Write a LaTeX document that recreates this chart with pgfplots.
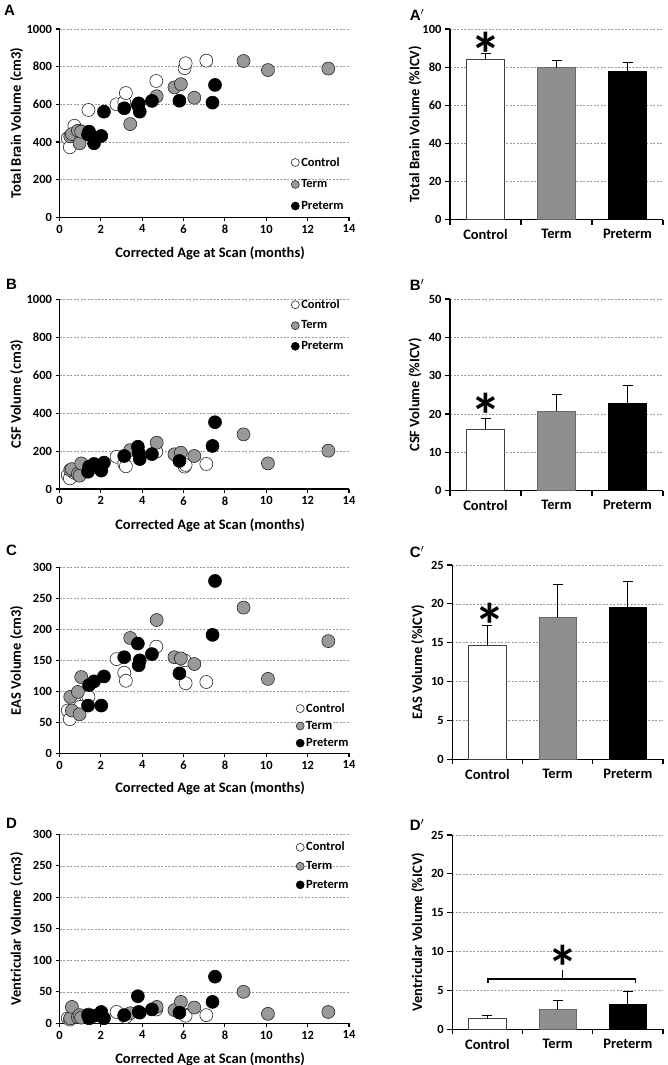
\documentclass[border=0pt]{standalone}
\usepackage{fontspec}
\setmainfont{Carlito}
\newfontfamily\arialf{Liberation Sans}
\usepackage{pgfplots}
\pgfplotsset{compat=1.18}
\definecolor{termgray}{HTML}{999999}
\definecolor{bargray}{HTML}{8E8E8E}
\definecolor{gridgray}{HTML}{9A9A9A}
\pgfplotsset{
 base/.style={scale only axis, axis x line=bottom, axis y line=left,
   axis line style={-, line width=1.3pt, black},
   tick align=outside, major tick length=4pt, tick style={line width=1.1pt, black},
   ymajorgrids, grid style={gridgray, line width=0.5pt, dash pattern=on 2pt off 1.5pt},
   ticklabel style={font=\fontsize{12.5}{13}\selectfont\bfseries},
   /pgf/number format/assume math mode=true,
   /pgf/number format/1000 sep={},
   label style={font=\fontsize{14.5}{15}\selectfont\bfseries},
   clip=false, anchor=south west},
 sc/.style={base, width=289.5pt, xmin=0, xmax=14, xtick={0,2,...,14},
   xlabel={Corrected Age at Scan (months)},
   xlabel style={at={(axis description cs:0.52,-0.19)}, anchor=center},
   ylabel style={at={(axis description cs:-0.1485,0.5)}, anchor=center},
   legend cell align=left,
   legend style={draw=none, fill=none, inner sep=0pt, font=\fontsize{12.5}{13}\selectfont\bfseries},
   legend image code/.code={\draw[##1, mark size=4pt] plot coordinates {(0pt,0pt)};}},
 ctl/.style={only marks, mark=*, mark size=6.5pt, mark options={fill=white, draw=black!85, line width=0.6pt}},
 trm/.style={only marks, mark=*, mark size=6.5pt, mark options={fill=termgray, draw=black!85, line width=0.6pt}},
 pre/.style={only marks, mark=*, mark size=6.5pt, mark options={fill=black, draw=black, line width=0.6pt}},
 br/.style={base, xmin=-0.5, xmax=2.5, ymin=0,
   xtick={-0.5,0.5,1.5,2.5}, xticklabels={},
   major tick length=5pt,
   extra x ticks={0,1,2}, extra x tick labels={Control,Term,Preterm},
   extra x tick style={major tick length=0pt, tick label style={font=\fontsize{14.5}{15}\selectfont\bfseries, yshift=-6pt}},
   ylabel style={at={(axis description cs:-0.164,0.5)}, anchor=center}},
 errb/.style={error bars/.cd, y dir=plus, y explicit, error mark=|,
   error bar style={line width=0.8pt, black, solid},
   error mark options={line width=0.8pt, black, solid, mark size=5pt}},
}
\newcommand{\bigast}{{\fontsize{62}{62}\selectfont\bfseries *}}
\begin{document}
\begin{tikzpicture}
\useasboundingbox (0,0) rectangle (668pt,-1065pt);
% panel letters
\node[font=\arialf\bfseries\fontsize{15}{15}\selectfont] at (9.5pt,-10pt) {A};
\node[font=\arialf\bfseries\fontsize{15}{15}\selectfont] at (11.5pt,-284pt) {B};
\node[font=\arialf\bfseries\fontsize{15}{15}\selectfont] at (11.5pt,-550pt) {C};
\node[font=\arialf\bfseries\fontsize{15}{15}\selectfont] at (11.5pt,-823pt) {D};
\node[font=\arialf\bfseries\fontsize{15}{15}\selectfont] at (417pt,-15pt) {A$^{\prime}$};
\node[font=\arialf\bfseries\fontsize{15}{15}\selectfont] at (417pt,-285pt) {B$^{\prime}$};
\node[font=\arialf\bfseries\fontsize{15}{15}\selectfont] at (417pt,-552pt) {C$^{\prime}$};
\node[font=\arialf\bfseries\fontsize{15}{15}\selectfont] at (417pt,-825pt) {D$^{\prime}$};

% ---------- A ----------
\begin{axis}[sc, at={(59.5pt,-217.3pt)}, height=188.3pt, ymin=0, ymax=1000, ytick={0,200,...,1000},
  ylabel={Total Brain Volume (cm3)},
  legend style={at={(axis description cs:0.80,0.33)}, anchor=north west, row sep=8pt}]
\addplot[ctl] coordinates {(0.40,420)(0.50,372)(0.72,486)(1.00,458)(1.40,570)(2.76,600)(3.13,612)(3.21,660)(4.68,724)(6.05,792)(6.10,818)(7.10,832)};
\addplot[trm] coordinates {(0.52,430)(0.60,442)(0.89,460)(0.97,393)(1.05,455)(3.42,495)(4.70,643)(5.56,690)(5.87,707)(6.52,635)(8.90,830)(10.08,782)(13.0,790)};
\addplot[pre] coordinates {(1.38,440)(1.43,455)(1.67,393)(2.02,432)(2.15,561)(3.13,579)(3.79,595)(3.83,605)(3.88,561)(4.47,618)(5.80,619)(7.40,609)(7.52,703)};
\legend{Control,Term,Preterm}
\end{axis}

% ---------- B ----------
\begin{axis}[sc, at={(59.5pt,-489pt)}, height=189.7pt, ymin=0, ymax=1000, ytick={0,200,...,1000},
  ylabel={CSF Volume (cm3)},
  legend style={at={(axis description cs:0.80,1.01)}, anchor=north west, row sep=7pt}]
\addplot[ctl] coordinates {(0.40,73)(0.50,56)(0.72,85)(1.00,90)(1.40,110)(2.76,170)(3.13,132)(3.21,120)(4.68,197)(6.05,118)(6.10,127)(7.10,132)};
\addplot[trm] coordinates {(0.52,100)(0.60,105)(0.89,80)(0.97,70)(1.05,135)(3.42,205)(4.70,244)(5.56,183)(5.87,191)(6.52,174)(8.90,288)(10.08,135)(13.0,202)};
\addplot[pre] coordinates {(1.38,91)(1.43,118)(1.67,132)(2.02,97)(2.15,139)(3.13,174)(3.79,223)(3.83,191)(3.88,158)(4.47,184)(5.80,148)(7.40,227)(7.52,352)};
\legend{Control,Term,Preterm}
\end{axis}

% ---------- C ----------
\begin{axis}[sc, at={(59.5pt,-753.3pt)}, height=186pt, ymin=0, ymax=300, ytick={0,50,...,300},
  ylabel={EAS Volume (cm3)},
  legend style={at={(axis description cs:0.817,0.28)}, anchor=north west, row sep=3.5pt}]
\addplot[ctl] coordinates {(0.40,69)(0.50,55)(0.72,83)(1.00,75)(1.40,91)(2.76,152)(3.13,130)(3.21,117)(4.68,172)(6.05,150)(6.10,113)(7.10,115)};
\addplot[trm] coordinates {(0.52,91)(0.60,69)(0.89,99)(0.97,63)(1.05,123)(3.42,186)(4.70,215)(5.56,155)(5.87,153)(6.52,144)(8.90,235)(10.08,120)(13.0,181)};
\addplot[pre] coordinates {(1.38,77)(1.43,110)(1.67,116)(2.02,77)(2.15,124)(3.13,155)(3.79,177)(3.83,142)(3.88,150)(4.47,160)(5.80,129)(7.40,191)(7.52,278)};
\legend{Control,Term,Preterm}
\end{axis}

% ---------- D ----------
\begin{axis}[sc, at={(59.5pt,-1023.3pt)}, height=189pt, ymin=0, ymax=300, ytick={0,50,...,300},
  ylabel={Ventricular Volume (cm3)},
  legend style={at={(axis description cs:0.817,0.97)}, anchor=north west, row sep=5pt}]
\addplot[ctl] coordinates {(0.40,8)(0.50,6)(0.72,10)(1.00,12)(1.40,14)(2.76,18)(3.13,12)(3.21,10)(4.68,22)(6.05,14)(6.10,12)(7.10,13)};
\addplot[trm] coordinates {(0.52,8)(0.60,26)(0.89,10)(0.97,13)(1.05,9)(3.42,16)(4.70,26)(5.56,21)(5.87,34)(6.52,25)(8.90,50)(10.08,15)(13.0,18)};
\addplot[pre] coordinates {(1.38,13)(1.43,8)(1.67,12)(2.02,18)(2.15,8)(3.13,13)(3.79,43)(3.83,18)(3.88,17)(4.47,22)(5.80,17)(7.40,34)(7.52,74)};
\legend{Control,Term,Preterm}
\end{axis}

% ---------- A' ----------
\begin{axis}[br, at={(450pt,-219.7pt)}, width=213pt, height=190.7pt, ymax=100, ytick={0,20,...,100},
  ylabel={Total Brain Volume (\%ICV)}]
\addplot[ybar, bar width=0.53, fill=white, draw=black!75, line width=0.8pt, errb] coordinates {(0,84.1) +- (0,3.2)};
\addplot[ybar, bar width=0.53, fill=bargray, draw=black!60, line width=0.8pt, errb] coordinates {(1,79.7) +- (0,4.0)};
\addplot[ybar, bar width=0.53, fill=black, draw=black, line width=0.8pt, errb] coordinates {(2,77.6) +- (0,4.7)};
\node[anchor=north, inner sep=0pt] at (axis cs:0,98.6) {\bigast};
\end{axis}

% ---------- B' ----------
\begin{axis}[br, at={(450pt,-490.7pt)}, width=213pt, height=191.7pt, ymax=50, ytick={0,10,...,50},
  ylabel={CSF Volume (\%ICV)}]
\addplot[ybar, bar width=0.53, fill=white, draw=black!75, line width=0.8pt, errb] coordinates {(0,16.1) +- (0,2.7)};
\addplot[ybar, bar width=0.53, fill=bargray, draw=black!60, line width=0.8pt, errb] coordinates {(1,20.8) +- (0,4.3)};
\addplot[ybar, bar width=0.53, fill=black, draw=black, line width=0.8pt, errb] coordinates {(2,22.8) +- (0,4.6)};
\node[anchor=north, inner sep=0pt] at (axis cs:0,25.4) {\bigast};
\end{axis}

% ---------- C' ----------
\begin{axis}[br, at={(452.3pt,-759.3pt)}, width=210.7pt, height=194.3pt, ymax=25, ytick={0,5,...,25},
  ylabel={EAS Volume (\%ICV)}]
\addplot[ybar, bar width=0.53, fill=white, draw=black!75, line width=0.8pt, errb] coordinates {(0,14.7) +- (0,2.5)};
\addplot[ybar, bar width=0.53, fill=bargray, draw=black!60, line width=0.8pt, errb] coordinates {(1,18.3) +- (0,4.2)};
\addplot[ybar, bar width=0.53, fill=black, draw=black, line width=0.8pt, errb] coordinates {(2,19.6) +- (0,3.3)};
\node[anchor=north, inner sep=0pt] at (axis cs:0.03,20.1) {\bigast};
\end{axis}

% ---------- D' ----------
\begin{axis}[br, at={(452.3pt,-1029.3pt)}, width=210.7pt, height=194.3pt, ymax=25, ytick={0,5,...,25},
  ylabel={Ventricular Volume (\%ICV)}]
\addplot[ybar, bar width=0.53, fill=white, draw=black!75, line width=0.8pt, errb] coordinates {(0,1.45) +- (0,0.4)};
\addplot[ybar, bar width=0.53, fill=bargray, draw=black!60, line width=0.8pt, errb] coordinates {(1,2.55) +- (0,1.15)};
\addplot[ybar, bar width=0.53, fill=black, draw=black, line width=0.8pt, errb] coordinates {(2,3.15) +- (0,1.75)};
\draw[line width=1.6pt] (axis cs:0.01,5.9) -- (axis cs:0.01,6.5) -- (axis cs:2.11,6.5) -- (axis cs:2.11,5.9);
\draw[line width=1.6pt] (axis cs:1.07,6.5) -- (axis cs:1.07,7.6);
\node[anchor=north, inner sep=0pt] at (axis cs:1.07,10.85) {\bigast};
\end{axis}
\end{tikzpicture}
\end{document}
